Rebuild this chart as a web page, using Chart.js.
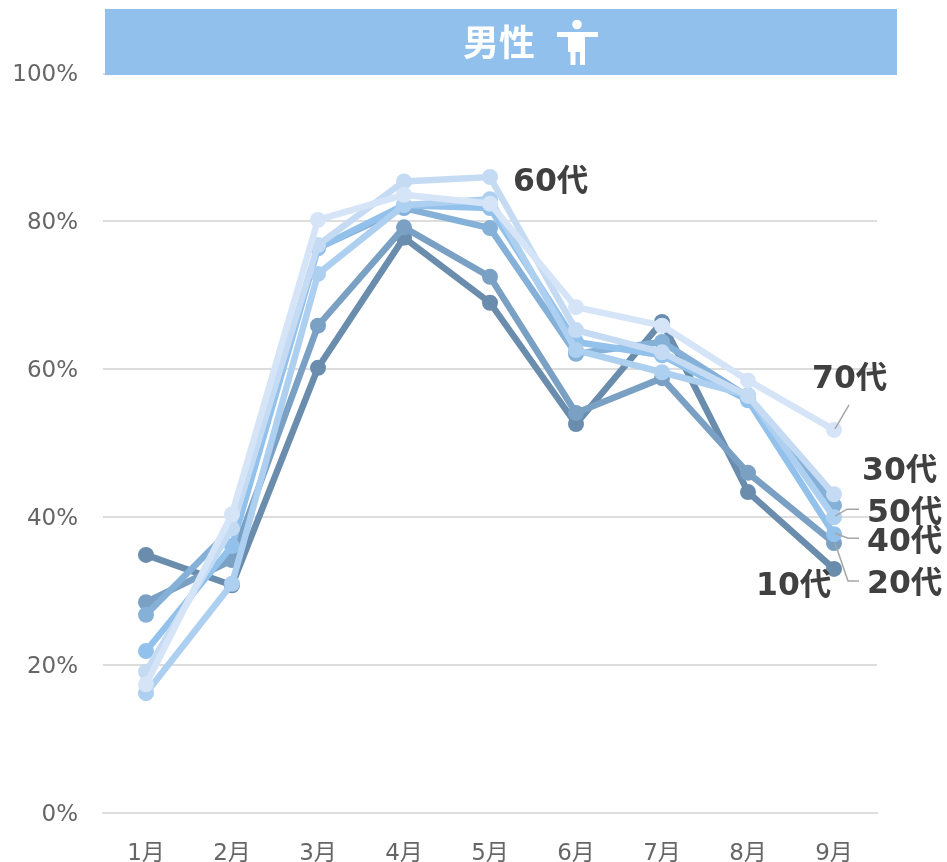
<!DOCTYPE html>
<html>
<head>
<meta charset="utf-8">
<title>男性</title>
<script src="https://cdn.jsdelivr.net/npm/chart.js@4"></script>
<style>
  html, body { margin: 0; padding: 0; background: #fff; }
  canvas { display: block; }
</style>
</head>
<body>
<canvas id="myChart" width="947" height="862"></canvas>
<script>
// Data
var months = ["1月", "2月", "3月", "4月", "5月", "6月", "7月", "8月", "9月"];
var age10 = [34.9, 30.8, 60.2, 77.8, 69.0, 52.6, 66.4, 43.4, 33.0];
var age20 = [28.5, 34.2, 65.9, 79.2, 72.5, 54.1, 58.8, 46.0, 36.5];
var age30 = [26.8, 38.5, 76.4, 81.8, 79.1, 62.1, 63.7, 56.3, 41.6];
var age40 = [21.9, 36.1, 76.4, 82.2, 81.8, 63.7, 61.9, 55.8, 37.7];
var age50 = [16.2, 31.0, 72.9, 82.2, 83.0, 62.6, 59.6, 56.5, 40.0];
var age60 = [19.1, 38.5, 76.8, 85.4, 86.0, 65.3, 62.3, 56.4, 43.1];
var age70 = [17.4, 40.4, 80.2, 83.6, 82.4, 68.4, 65.9, 58.5, 51.8];

var FONT = '"DejaVu Sans", "Noto Sans CJK JP", sans-serif';

// order: later ages are painted over earlier ones
function series(label, values, color, order) {
  return {
    label: label,
    data: values,
    order: order,
    borderColor: color,
    backgroundColor: color,
    borderWidth: 6.5,
    pointRadius: 8,
    pointHoverRadius: 8,
    pointBorderWidth: 0,
    tension: 0,
    fill: false
  };
}

// Banner across the top, with the person icon
var bannerPlugin = {
  id: "banner",
  afterDraw: function (chart) {
    var c = chart.ctx;
    c.save();
    c.fillStyle = "#91C0EC";
    c.fillRect(105, 9, 792, 66);
    c.fillStyle = "#fff";
    c.font = 'bold 36px "Noto Sans CJK JP", sans-serif';
    c.textAlign = "left";
    c.textBaseline = "middle";
    c.fillText("男性", 463, 42);
    c.beginPath();
    c.arc(577, 24.5, 4.8, 0, Math.PI * 2);
    c.fill();
    c.fillRect(557, 32, 41, 5);
    c.fillRect(568, 32, 17, 20);
    c.fillRect(570.5, 50, 5, 15);
    c.fillRect(580, 50, 5, 15);
    c.restore();
  }
};

// Age labels next to their lines. dx, dy are offsets from the given point
var endLabels = [
  { text: "60代", set: 5, idx: 4, dx: 23, dy: 6 },
  { text: "70代", set: 6, idx: 8, dx: -22, dy: -50, lead: [[15, -25], [1, -1]] },
  { text: "30代", set: 2, idx: 8, dx: 28, dy: -34 },
  { text: "50代", set: 4, idx: 8, dx: 33, dy: -3, lead: [[25, -8], [13, -8], [1, -1]] },
  { text: "40代", set: 3, idx: 8, dx: 33, dy: 9, lead: [[25, 4], [14, 4], [1, -1]] },
  { text: "20代", set: 1, idx: 8, dx: 33, dy: 42, lead: [[25, 38], [14, 38], [1, 0]] },
  { text: "10代", set: 0, idx: 8, dx: -78, dy: 18 }
];

var labelPlugin = {
  id: "endLabels",
  afterDatasetsDraw: function (chart) {
    var c = chart.ctx;
    c.save();
    endLabels.forEach(function (l) {
      var pt = chart.getDatasetMeta(l.set).data[l.idx];
      if (l.lead) {
        c.strokeStyle = "#A6A6A6";
        c.lineWidth = 1.5;
        c.beginPath();
        l.lead.forEach(function (p, i) {
          if (i === 0) c.moveTo(pt.x + p[0], pt.y + p[1]);
          else c.lineTo(pt.x + p[0], pt.y + p[1]);
        });
        c.stroke();
      }
      c.fillStyle = "#404040";
      c.font = "bold 31.5px " + FONT;
      c.textAlign = "left";
      c.textBaseline = "middle";
      c.fillText(l.text, pt.x + l.dx, pt.y + l.dy);
    });
    c.restore();
  }
};

var ctx = document.getElementById("myChart").getContext("2d");
var myChart = new Chart(ctx, {
  type: "line",
  data: {
    labels: months,
    datasets: [
      series("10代", age10, "#6A8DAD", 6),
      series("20代", age20, "#7AA0C4", 5),
      series("30代", age30, "#85B1D9", 4),
      series("40代", age40, "#92C1EC", 3),
      series("50代", age50, "#ADCFF0", 2),
      series("60代", age60, "#C5DBF3", 1),
      series("70代", age70, "#D5E4F7", 0)
    ]
  },
  options: {
    responsive: false,
    animation: false,
    layout: { autoPadding: false, padding: { top: 73.5, right: 70, left: 0, bottom: 0 } },
    plugins: { legend: { display: false }, tooltip: { enabled: false } },
    scales: {
      x: {
        offset: true,
        grid: { display: false },
        border: { color: "#DDDDDD", width: 2 },
        ticks: { color: "#666666", padding: 19, maxRotation: 0, font: { family: FONT, size: 23 } },
        afterFit: function (s) { s.height = 49; }
      },
      y: {
        min: 0,
        max: 100,
        grid: { color: "#DDDDDD", lineWidth: 2, drawTicks: false },
        border: { display: false },
        ticks: {
          stepSize: 20,
          color: "#666666",
          padding: 25,
          font: { family: FONT, size: 23 },
          callback: function (v) { return v + "%"; }
        },
        afterFit: function (s) { s.width = 103; }
      }
    }
  },
  plugins: [labelPlugin, bannerPlugin]
});

// y tick text sits 2px higher than the reference, nudge it down
var yScale = myChart.scales.y;
var drawYLabels = yScale.drawLabels;
yScale.drawLabels = function (area) {
  ctx.save();
  ctx.translate(0, 2);
  drawYLabels.call(this, area);
  ctx.restore();
};
myChart.draw();
</script>
</body>
</html>
